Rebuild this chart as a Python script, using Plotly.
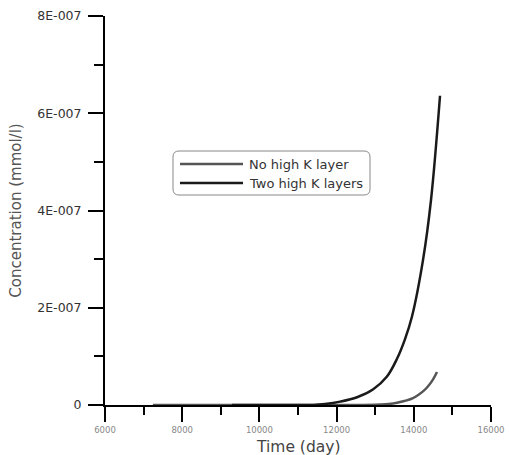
import plotly.graph_objects as go

# Data
no_k_time = [7240, 9300, 11000, 12500, 13120, 13350, 13565, 13979, 14238, 14342, 14470, 14601]
no_k_conc = [0, 0, 0, 0, 0.01e-7, 0.02e-7, 0.045e-7, 0.14e-7, 0.28e-7, 0.36e-7, 0.49e-7, 0.68e-7]

two_k_time = [9290, 11000, 11400, 11700, 12090, 12530, 12940, 13300, 13565, 13770, 13953, 14238, 14446, 14679]
two_k_conc = [0, 0, 0.0, 0.02e-7, 0.07e-7, 0.16e-7, 0.32e-7, 0.58e-7, 0.95e-7, 1.35e-7, 1.82e-7, 2.98e-7, 4.22e-7, 6.36e-7]

series_names = ["No high K layer", "Two high K layers"]
series_colors = ["#555555", "#1a1a1a"]

y_tickvals = [0, 2e-7, 4e-7, 6e-7, 8e-7]
y_ticktext = ["0", "2E-007", "4E-007", "6E-007", "8E-007"]
x_tickvals = [6000, 8000, 10000, 12000, 14000, 16000]
x_ticktext = ["6000", "8000", "10000", "12000", "14000", "16000"]
x_title = "Time (day)"
y_title = "Concentration (mmol/l)"

FONT = "DejaVu Sans, Verdana, sans-serif"

fig = go.Figure()
for t, c, name, col in [(no_k_time, no_k_conc, series_names[0], series_colors[0]),
                        (two_k_time, two_k_conc, series_names[1], series_colors[1])]:
    fig.add_trace(go.Scatter(x=t, y=c, mode="lines", name=name,
                             line=dict(color=col, width=2.5, shape="spline", smoothing=1.0),
                             showlegend=False))

W, H = 509, 455
L, R, T, B = 105, 18, 16, 50
pw, ph = W - L - R, H - T - B

def px(x):
    return (x - L) / pw

def py(y):
    return (H - B - y) / ph

# Rounded legend box
x0, x1, y0, y1 = px(173), px(370), py(151), py(195)
rx, ry = 6 / pw, 6 / ph
path = (f"M {x0+rx},{y0} L {x1-rx},{y0} Q {x1},{y0} {x1},{y0-ry} "
        f"L {x1},{y1+ry} Q {x1},{y1} {x1-rx},{y1} L {x0+rx},{y1} "
        f"Q {x0},{y1} {x0},{y1+ry} L {x0},{y0-ry} Q {x0},{y0} {x0+rx},{y0} Z")
shapes = [dict(type="path", path=path, xref="paper", yref="paper",
               line=dict(color="#888888", width=1), fillcolor="white", layer="above")]
annotations = []
for i, (name, col) in enumerate(zip(series_names, series_colors)):
    yy = 164 + i * 19
    shapes.append(dict(type="line", xref="paper", yref="paper",
                       x0=px(180), x1=px(243), y0=py(yy), y1=py(yy),
                       line=dict(color=col, width=2.5), layer="above"))
    annotations.append(dict(text=name, xref="paper", yref="paper",
                            x=px(247), y=py(yy), xanchor="left", yanchor="middle",
                            showarrow=False, font=dict(size=13, color="#333333", family=FONT)))

# Axis title for x placed below the tick labels
annotations.append(dict(text=x_title, xref="paper", yref="paper", x=0.5, y=py(447),
                        xanchor="center", yanchor="middle", showarrow=False,
                        font=dict(size=15.5, color="#444444", family=FONT)))

fig.update_layout(
    width=W, height=H,
    margin=dict(l=L, r=R, t=T, b=B),
    paper_bgcolor="white", plot_bgcolor="white",
    font=dict(family=FONT),
    shapes=shapes, annotations=annotations,
    xaxis=dict(range=[6000, 16000], tickvals=x_tickvals, ticktext=x_ticktext,
               automargin=False,
               showgrid=False, zeroline=False, showline=True, linecolor="black", linewidth=2,
               ticks="outside", ticklen=15, tickwidth=2, tickcolor="black",
               minor=dict(dtick=1000, tick0=6000, ticks="outside", ticklen=8, tickwidth=2, tickcolor="black"),
               tickfont=dict(size=8.5, color="#888888", family=FONT),
               ticklabelstandoff=1,
               layer="below traces"),
    yaxis=dict(range=[0, 8e-7], tickvals=y_tickvals, ticktext=y_ticktext,
               automargin=False,
               showgrid=False, zeroline=False, showline=True, linecolor="black", linewidth=2,
               ticks="outside", ticklen=15, tickwidth=2, tickcolor="black",
               minor=dict(dtick=1e-7, tick0=0, ticks="outside", ticklen=9, tickwidth=2, tickcolor="black"),
               tickfont=dict(size=12.5, color="#333333", family=FONT),
               ticklabelstandoff=4,
               title=dict(text=y_title, font=dict(size=15, color="#555555", family=FONT), standoff=12),
               layer="below traces"),
)

fig.write_html("out.html")
